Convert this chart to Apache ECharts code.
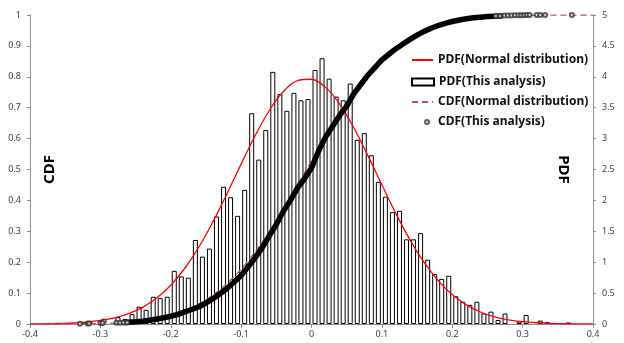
<!DOCTYPE html>
<html><head><meta charset="utf-8">
<script src="https://cdn.jsdelivr.net/npm/echarts@6/dist/echarts.min.js"></script>
<style>html,body{margin:0;padding:0;background:#fff}#c{width:624px;height:343px}</style>
</head><body><div id="c"></div>
<script>
// Histogram (PDF of this analysis): bin centers and heights (right axis)
const binCenters = [-0.325,-0.315,-0.295,-0.275,-0.265,-0.255,-0.245,-0.235,-0.225,-0.215,-0.205,-0.195,-0.185,-0.175,-0.165,-0.155,-0.145,-0.135,-0.125,-0.115,-0.105,-0.095,-0.085,-0.075,-0.065,-0.055,-0.045,-0.035,-0.025,-0.015,-0.005,0.005,0.015,0.025,0.035,0.045,0.055,0.065,0.075,0.085,0.095,0.105,0.115,0.125,0.135,0.145,0.155,0.165,0.175,0.185,0.195,0.205,0.215,0.225,0.235,0.245,0.255,0.265,0.275,0.295,0.305,0.325,0.335,0.365];
const pdfBars = [0.03,0.05,0.085,0.11,0.08,0.16,0.28,0.23,0.44,0.42,0.44,0.86,0.77,0.75,1.36,1.09,1.22,1.74,2.22,2.05,1.75,2.17,3.41,2.66,3.14,4.08,3.72,3.45,3.74,3.62,3.64,4.11,4.30,3.97,3.68,3.62,3.89,2.98,3.09,2.73,2.30,2.06,1.81,1.83,1.37,1.37,1.47,1.04,0.81,0.73,0.78,0.45,0.36,0.31,0.36,0.17,0.20,0.065,0.17,0.04,0.145,0.055,0.03,0.025];

// Normal distribution curves
const normX = [-0.40,-0.38,-0.36,-0.34,-0.32,-0.30,-0.28,-0.26,-0.24,-0.22,-0.20,-0.18,-0.16,-0.14,-0.12,-0.10,-0.08,-0.06,-0.04,-0.02,0.00,0.02,0.04,0.06,0.08,0.10,0.12,0.14,0.16,0.18,0.20,0.22,0.24,0.26,0.28,0.30,0.32,0.34,0.36,0.38,0.40];
const normPdf = [0.002,0.004,0.008,0.016,0.031,0.057,0.099,0.167,0.270,0.420,0.628,0.902,1.246,1.654,2.110,2.587,3.049,3.455,3.762,3.937,3.960,3.829,3.559,3.179,2.729,2.252,1.786,1.362,0.998,0.703,0.476,0.310,0.194,0.116,0.067,0.037,0.020,0.010,0.005,0.002,0.001];
const normCdf = [0.0000,0.0001,0.0002,0.0005,0.0009,0.0018,0.0033,0.0059,0.0102,0.0170,0.0274,0.0427,0.0643,0.0934,0.1314,0.1775,0.2339,0.2991,0.3714,0.4487,0.5278,0.6060,0.6801,0.7476,0.8067,0.8565,0.8969,0.9283,0.9517,0.9686,0.9803,0.9881,0.9930,0.9961,0.9979,0.9989,0.9994,0.9997,0.9999,0.9999,1.0000];

// Empirical CDF (this analysis) - dense part
const cdfX = [-0.265,-0.25,-0.24,-0.23,-0.22,-0.21,-0.20,-0.19,-0.18,-0.17,-0.16,-0.15,-0.14,-0.13,-0.12,-0.11,-0.10,-0.09,-0.08,-0.07,-0.06,-0.05,-0.04,-0.03,-0.02,-0.01,0.00,0.01,0.02,0.03,0.04,0.05,0.06,0.07,0.08,0.09,0.10,0.11,0.12,0.13,0.14,0.15,0.16,0.17,0.18,0.19,0.20,0.21,0.22,0.23,0.24,0.25,0.26,0.27];
const cdfY = [0.005,0.007,0.009,0.012,0.016,0.020,0.025,0.031,0.039,0.047,0.056,0.068,0.082,0.098,0.115,0.136,0.157,0.185,0.215,0.247,0.285,0.322,0.365,0.400,0.440,0.470,0.505,0.560,0.605,0.640,0.675,0.705,0.745,0.775,0.805,0.830,0.855,0.873,0.891,0.906,0.921,0.935,0.947,0.957,0.966,0.973,0.979,0.984,0.988,0.991,0.993,0.995,0.996,0.997];
// Empirical CDF - sparse tail points
const tailX = [-0.329,-0.318,-0.316,-0.300,-0.297,-0.277,-0.272,-0.267,-0.262,0.262,0.268,0.274,0.279,0.284,0.289,0.294,0.298,0.302,0.306,0.310,0.320,0.325,0.332,0.370];
const tailY = [0.001,0.002,0.002,0.003,0.003,0.004,0.004,0.005,0.005,0.997,0.997,0.998,0.998,0.998,0.999,0.999,0.999,0.999,1.0,1.0,1.0,1.0,1.0,1.0];

const xTicks = {min:-0.4, max:0.4, interval:0.1};
const cdfTicks = {min:0, max:1, interval:0.1};
const pdfTicks = {min:0, max:5, interval:0.5};

const zip = (a,b) => a.map((v,i)=>[v,b[i]]);
const FONT = 'Noto Sans';
const axisGray = '#8c8c8c';
const lblStyle = {color:'#404040', fontSize:9, fontFamily:FONT};
const legText = {fontFamily:FONT, fontWeight:'bold', fontSize:12, color:'#111'};
const legBase = {padding:0, selectedMode:false, textStyle:legText};

const chart = echarts.init(document.getElementById('c'), null, {renderer:'canvas'});
chart.setOption({
  animation:false,
  grid:{left:30, right:31, top:15, bottom:19, containLabel:false, outerBoundsMode:'none'},
  legend:[
    Object.assign({}, legBase, {left:411, top:54, itemWidth:21, itemHeight:14, itemStyle:{opacity:0}, data:['PDF(Normal distribution)']}),
    Object.assign({}, legBase, {left:411, top:76, itemWidth:22, itemHeight:7, data:[{name:'PDF(This analysis)', icon:'rect'}]}),
    Object.assign({}, legBase, {left:411, top:96, itemWidth:21, itemHeight:14, itemStyle:{opacity:0}, data:['CDF(Normal distribution)']}),
    Object.assign({}, legBase, {left:424, top:116, itemWidth:4, itemHeight:4, textStyle:Object.assign({padding:[0,0,0,4]}, legText), data:['CDF(This analysis)']})
  ],
  xAxis:{type:'value', min:xTicks.min, max:xTicks.max, interval:xTicks.interval,
    axisLine:{show:true, onZero:false, lineStyle:{color:axisGray}}, axisTick:{show:true, length:4, lineStyle:{color:axisGray}},
    splitLine:{show:false}, axisLabel:Object.assign({margin:6}, lblStyle)},
  yAxis:[
    {type:'value', position:'left', min:cdfTicks.min, max:cdfTicks.max, interval:cdfTicks.interval,
     name:'CDF', nameLocation:'middle', nameRotate:90, nameGap:-27,
     nameTextStyle:{fontFamily:FONT, fontWeight:'bold', fontSize:15, color:'#000'},
     axisLine:{show:true, onZero:false, lineStyle:{color:axisGray}}, axisTick:{show:true, length:3, lineStyle:{color:axisGray}},
     splitLine:{show:false}, axisLabel:Object.assign({margin:9}, lblStyle)},
    {type:'value', position:'right', min:pdfTicks.min, max:pdfTicks.max, interval:pdfTicks.interval,
     name:'PDF', nameLocation:'middle', nameRotate:-90, nameGap:-37,
     nameTextStyle:{fontFamily:FONT, fontWeight:'bold', fontSize:15, color:'#000'},
     axisLine:{show:true, onZero:false, lineStyle:{color:axisGray}}, axisTick:{show:true, length:3, lineStyle:{color:axisGray}},
     splitLine:{show:false}, axisLabel:Object.assign({margin:9}, lblStyle)}
  ],
  series:[
    {name:'PDF(This analysis)', type:'bar', xAxisIndex:0, yAxisIndex:1, barWidth:5, z:1,
     data:zip(binCenters,pdfBars), itemStyle:{color:'#fff', borderColor:'#000', borderWidth:1}},
    {name:'PDF(Normal distribution)', type:'line', yAxisIndex:1, z:3, smooth:0.35, symbol:'none',
     data:zip(normX,normPdf), lineStyle:{color:'#ff0000', width:1.3}, itemStyle:{color:'#ff0000'}},
    {name:'CDF(Normal distribution)', type:'line', yAxisIndex:0, z:3, smooth:0.35, symbol:'none',
     data:zip(normX,normCdf), lineStyle:{color:'#c0504d', width:1.3, type:[6,4]}, itemStyle:{color:'#c0504d'}},
    {name:'CDF(This analysis)', type:'scatter', yAxisIndex:0, z:5, symbol:'emptyCircle', symbolSize:4,
     data:zip(tailX,tailY), itemStyle:{color:'#333', borderWidth:1}},
    {name:'CDF(This analysis)', type:'line', yAxisIndex:0, z:4, smooth:false, symbol:'none',
     data:zip(cdfX,cdfY), lineStyle:{color:'#000', width:5.5, cap:'round', join:'round'}, itemStyle:{color:'#000'}}
  ]
});
</script></body></html>
